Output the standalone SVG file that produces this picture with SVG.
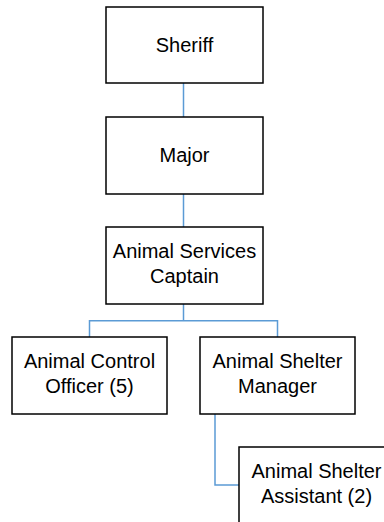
<svg xmlns="http://www.w3.org/2000/svg" width="384" height="522" viewBox="0 0 384 522">
<style>
.box{fill:#fff;stroke:#000;stroke-width:1.5}
.lbl{font-family:"Liberation Sans",Arial,sans-serif;font-size:20px;fill:#000;text-anchor:middle}
.conn{fill:none;stroke:#5B9BD5;stroke-width:1.5}
</style>
<rect width="384" height="522" fill="#fff"/>
<g id="connectors">
<path class="conn" d="M183.5 83V117"/>
<path class="conn" d="M183.5 194V227"/>
<path class="conn" d="M183.5 304V320.7M89.5 337V320.7H277.5V337"/>
<path class="conn" d="M215 414V485H239"/>
</g>
<g id="sheriff"><rect class="box" x="106" y="7" width="157" height="76"/><text class="lbl" x="184.5" y="52">Sheriff</text></g>
<g id="major"><rect class="box" x="106" y="117" width="157" height="77"/><text class="lbl" x="184.5" y="162">Major</text></g>
<g id="captain"><rect class="box" x="106" y="227" width="157" height="77"/><text class="lbl" x="184.5" y="258">Animal Services</text><text class="lbl" x="184.5" y="283">Captain</text></g>
<g id="aco"><rect class="box" x="12" y="337" width="155" height="77"/><text class="lbl" x="89.5" y="368">Animal Control</text><text class="lbl" x="89.5" y="393">Officer (5)</text></g>
<g id="manager"><rect class="box" x="200" y="337" width="155" height="77"/><text class="lbl" x="277.5" y="368">Animal Shelter</text><text class="lbl" x="277.5" y="393">Manager</text></g>
<g id="assistant"><rect class="box" x="239" y="447" width="155" height="77"/><text class="lbl" x="316.5" y="478">Animal Shelter</text><text class="lbl" x="316.5" y="503">Assistant (2)</text></g>
</svg>
